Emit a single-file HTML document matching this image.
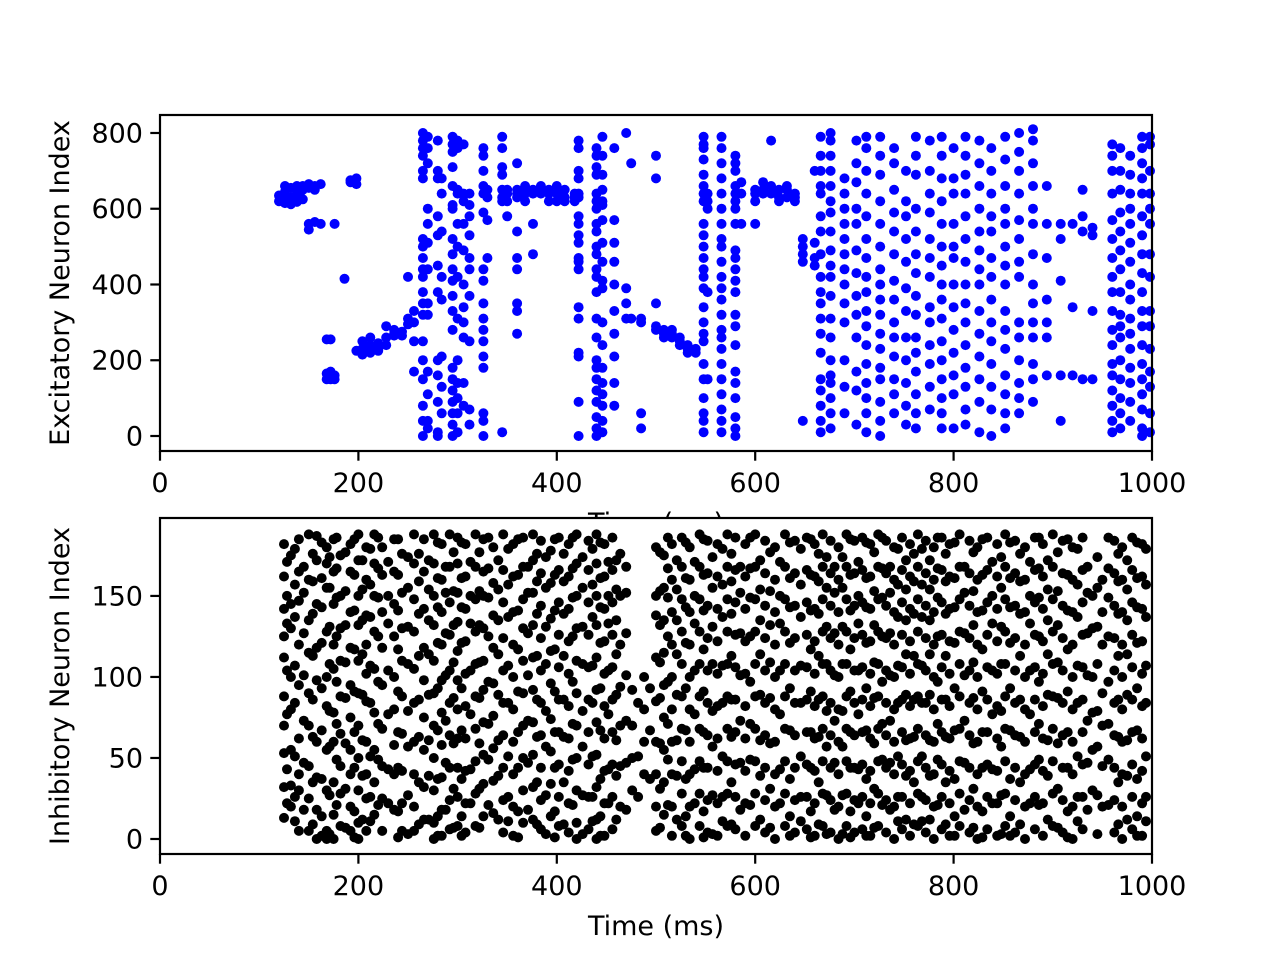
<!DOCTYPE html>
<html><head><meta charset="utf-8"><style>
html,body{margin:0;padding:0;background:#fff;}
svg{display:block;font-family:"DejaVu Sans","Liberation Sans",sans-serif;}
</style></head><body>
<svg id="fig" width="1280" height="960" viewBox="0 0 1280 960"></svg>
<script>
// ---- Excitatory spikes: [time ms, [neuron indices]] ----
const excTimes = [120,126,132,138,144,150,156,162,168,172,176,186,192,198,204,212,220,228,236,244,250,256,265,270,280,284,295,300,306,312,326,330,345,350,360,368,376,384,392,400,408,418,422,440,446,458,470,475,485,500,508,516,524,532,540,548,552,566,580,586,600,608,616,624,632,640,648,660,666,676,690,702,712,726,740,752,762,776,788,800,812,826,838,852,866,880,894,908,920,930,940,960,968,978,990,998];
const excNeurons = [
[635,620],[645,625,615,660],[655,630,612],[660,640,618],[660,650,625],[665,655,560,545],[660,650,565],[665,560],[255,165,150],[255,170,150],[160,150,560],[415],[675,670],[680,665,225],[230,215,250],[240,220,260],[245,225,230],[290,260,240],[280,270,265],[275,265],[295,310,420],[330,300,170,250],
[800,780,760,740,700,680,520,500,470,440,420,380,350,320,250,200,150,80,40,0],[790,760,720,600,560,510,440,350,320,170,110,40,20],[780,700,680,580,530,450,380,200,160,90,10,0],[680,640,540,420,360,210,130,60],
[790,770,750,710,660,610,600,520,480,440,410,370,330,280,180,150,120,90,60,30,0],[780,760,640,650,560,500,420,310,200,140,100,60,10],[770,640,620,560,490,400,340,300,260,140,80],[640,610,580,530,470,440,370,250,70,30],
[760,740,700,660,640,590,440,410,350,310,280,250,210,180,60,40,0],[650,630,570,470],[790,760,710,690,650,620,630,10],[650,640,620,580],[720,650,640,630,540,470,440,350,330,270],[660,650,640,620],[650,640,560,480],[660,650,640],[650,640,620],[660,640,620],[650,630,620],[640,630,620],
[780,760,700,680,640,630,580,560,530,510,470,460,440,340,310,220,210,90,0],[760,740,710,690,640,620,600,560,540,500,480,440,420,380,310,260,200,180,150,120,90,50,20,0],[790,740,690,650,620,610,570,510,460,410,390,300,240,180,140,110,80,40,10],[760,570,510,460,400,330,270,210,140,80],[800,390,350,310],[720,310],[310,300,60,20],[740,680,350,290,280],[280,270,260],[280,270,260],[260,250,240],[240,230,220],[230,220],
[790,770,760,730,690,660,640,620,560,530,500,470,440,420,390,340,300,270,250,190,150,100,60,40,10],[640,620,600,380,150],[790,760,720,680,640,600,560,520,500,460,420,390,360,320,280,260,230,190,150,110,70,40,10],[740,720,700,660,640,620,600,560,490,470,440,410,380,320,290,240,170,140,100,50,20,0],[670,640,560],[650,640,620,560],[670,650,640],[660,640,780],[650,630,620],[660,650,630],[640,630,620],[520,500,480,460,40],[510,470,450,700],[790,740,700,660,640,580,540,480,420,380,350,310,270,220,150,120,80,40,10],
[800,780,740,700,660,620,590,540,490,450,420,370,310,260,200,160,140,100,60,20],[680,640,600,560,520,480,440,400,350,300,200,130,60],[780,720,670,600,560,490,430,370,320,260,170,120,30],[790,760,700,640,580,520,470,420,380,330,290,240,190,140,100,60,10],[790,740,690,620,560,500,440,400,360,320,270,230,180,150,90,40,0],[760,720,650,590,540,480,410,360,300,260,210,150,110,60],[700,620,580,520,460,390,330,260,200,140,80,30],[790,740,690,600,540,480,430,370,320,260,220,170,110,60,20],[780,700,640,590,520,470,420,340,300,240,190,130,70],[790,740,680,620,560,500,450,400,360,310,250,200,150,100,60,20],[760,680,640,560,500,470,400,340,280,220,160,110,20],[790,740,690,640,580,520,460,400,350,300,240,180,130,70,30],[780,720,660,600,540,490,440,400,330,270,210,150,90,10],[760,700,640,580,540,470,420,360,300,250,190,130,70,0],[790,730,660,600,560,500,450,400,330,280,230,160,110,60,20],[800,750,700,640,570,520,460,420,300,260,200,140,100,60],[810,780,720,660,600,560,480,400,350,300,260,190,150,90],[660,560,470,360,300,260,160],[560,520,410,160,40],[560,340,160],[650,580,540,150],[550,530,330,150],
[770,740,700,640,570,520,470,420,380,330,280,240,190,160,120,80,40,10],[760,700,650,590,540,490,440,380,320,290,260,200,150,100,60,20],[740,690,640,600,560,510,460,400,360,310,270,230,180,140,90,40],[790,760,720,680,640,580,530,480,430,380,330,290,240,190,150,110,70,20,0],
[790,770,700,640,600,560,480,420,330,290,230,170,130,60,10]
];
// ---- Inhibitory spikes (set A) ----
const inhTimes = [125,132,140,150,158,168,175,182,192,200,208,216,224,236,244,256,266,276,284,292,300,308,318,326,336,346,356,366,376,384,394,402,412,420,432,440,448,456,464,476,488,500,508,516,526,534,544,552,562,572,580,590,600,610,620,630,640,652,660,668,676,684,692,700,708,716,724,732,740,748,756,764,772,780,788,796,806,816,824,834,844,852,862,872,882,890,900,910,920,930,940,950,962,970,980,990,998];
const inhNeurons = [
[182,162,142,125,112,88,70,53,32,13],[175,145,130,100,80,55,33,20],[185,165,147,120,95,62,40,30,5],[188,160,135,115,90,70,45,25,5],[187,172,145,118,98,60,38,18,0],[180,170,155,128,100,82,55,30,5,0],[185,165,145,120,105,78,60,35,15,0],[175,150,130,110,88,65,45,28,8],[182,165,140,118,95,75,55,40,20,5],[188,172,150,132,110,90,70,50,30,10,0],[180,160,138,120,102,85,60,40,25,5],[188,170,150,128,105,78,55,35,15],[180,163,140,118,95,68,45,25,5],[185,165,145,125,100,80,58,40,18],[176,152,130,110,88,65,42,22,5],[188,170,148,128,105,84,60,40,20,5],[185,165,142,118,98,75,55,32,12],[188,170,150,132,110,90,70,50,30,10,0],[182,160,140,120,98,78,58,38,18,2],[188,168,146,126,104,84,64,44,24,6],[186,170,152,134,116,98,80,62,44,26,8],[182,162,142,122,102,82,62,42,22,4],[188,168,148,128,108,88,68,48,28,8],[185,165,150,130,110,92,72,52,34,14],[180,158,138,118,96,76,56,36,16],[188,166,146,124,104,84,64,44,24,4],[182,162,140,120,100,80,60,40,20,2],[186,168,148,130,110,90,70,50,30,10],[188,172,152,132,112,92,72,52,32,12],[184,164,144,124,104,84,64,44,24,6],[178,158,136,116,96,74,54,34,14],[186,166,146,126,106,86,66,46,26,8],[182,162,142,122,102,82,62,42,22,4],[188,170,150,130,110,90,70,50,30,10,0],[184,166,146,126,106,86,66,46,26,6],[188,170,150,132,112,92,72,52,32,12,0],[182,162,142,122,102,82,62,42,22,2],[186,166,146,126,106,86,66,46,26,6],[176,150,120,94,70,45,20],[92,70,50,30],[100,80,60,40],[180,150,138,112,85,60,40,20,5],[175,155,135,115,95,75,55,35,15],[182,160,140,120,100,80,60,40,20,2],[186,168,148,128,108,88,68,48,28,8],[180,160,140,120,100,80,60,40,20,0],[188,168,148,128,108,88,68,48,28,8],[184,164,144,124,104,84,64,44,24,4],[182,162,142,122,102,82,62,42,22,2],[188,168,148,128,108,88,68,48,28,8],[186,166,146,126,106,86,66,46,26,6],[182,162,142,122,102,82,62,42,22,2],[188,168,148,128,108,88,68,48,28,8],[184,164,144,124,104,84,64,44,24,4],[180,160,140,120,100,80,60,40,20,0],[188,168,148,128,108,88,68,48,28,8],[184,164,144,124,104,84,64,44,24,4],[186,166,146,126,106,86,66,46,26,6],[182,162,142,122,102,82,62,42,22,2],[188,168,148,128,108,88,68,48,28,8],[184,164,144,124,104,84,64,44,24,4],[180,160,140,120,100,80,60,40,20,0],[188,168,148,128,108,88,68,48,28,8],[184,164,144,124,104,84,64,44,24,4],[186,166,146,126,106,86,66,46,26,6],[182,162,142,122,102,82,62,42,22,2],[188,168,148,128,108,88,68,48,28,8],[184,164,144,124,104,84,64,44,24,4],[180,160,140,120,100,80,60,40,20,0],[186,166,146,126,106,86,66,46,26,6],[182,162,142,122,102,82,62,42,22,2],[188,168,148,128,108,88,68,48,28,8],[184,164,144,124,104,84,64,44,24,4],[180,160,140,120,100,80,60,40,20,0],[186,166,146,126,106,86,66,46,26,6],[182,162,142,122,102,82,62,42,22,2],[188,168,148,128,108,88,68,48,28,8],[184,164,144,124,104,84,64,44,24,4],[180,160,140,120,100,80,60,40,20,0],[186,166,146,126,106,86,66,46,26,6],[182,162,142,122,102,82,62,42,22,2],[188,168,148,128,108,88,68,48,28,8],[184,164,144,124,104,84,64,44,24,4],[180,160,140,120,100,80,60,40,20,0],[186,166,146,126,106,86,66,46,26,6],[182,162,142,122,102,82,62,42,22,2],[188,168,148,128,108,88,68,48,28,8],[184,164,144,124,104,84,64,44,24,4],[180,160,140,120,100,80,60,40,20,0],[186,166,146,126,106,86,66,46,26,6],[150,130,100,78,55,30],[160,140,120,90,70,45,20],[184,164,144,124,104,84,64,44,24,4],[180,160,140,120,100,80,60,40,20,0],[186,166,146,126,106,86,66,46,26,6],[182,162,142,122,102,82,62,42,22,2]
];
// ---- Inhibitory spikes (set B) ----
const inhTimesB = [128,136,145,154,163,171,178,187,196,204,212,220,230,240,250,261,271,280,288,296,304,313,322,331,341,351,361,371,380,389,398,407,416,426,436,444,452,460,470,482,494,504,512,521,530,539,548,557,567,576,585,595,605,615,625,635,646,656,664,672,680,688,696,704,712,720,728,736,744,752,760,768,776,784,792,801,811,820,829,839,848,857,867,877,886,895,905,915,925,935,945,956,966,975,985,994];
const inhNeuronsB = [
[171,150,133,104,77,43,22],[179,157,137,107,84,51,26,11],[168,152,127,101,73,47,18],[176,159,139,113,86,63,35,9],[183,161,143,121,93,67,37,14,2],[174,155,131,108,79,57,27,3],[186,167,149,125,97,71,49,21],[177,153,132,109,87,59,31,7],[185,163,141,117,91,66,44,17,1],[172,154,135,114,89,61,39,12],
[179,157,137,107,84,51,26,11],[186,167,149,125,97,71,49,21],[171,150,133,104,77,43,22],[185,163,141,117,91,66,44,17,1],[174,155,131,108,79,57,27,3],[176,159,139,113,86,63,35,9],[172,154,135,114,89,61,39,12],[183,161,143,121,93,67,37,14,2],[168,152,127,101,73,47,18],[177,153,132,109,87,59,31,7],
[183,161,143,121,93,67,37,14,2],[171,150,133,104,77,43,22],[177,153,132,109,87,59,31,7],[186,167,149,125,97,71,49,21],[172,154,135,114,89,61,39,12],[179,157,137,107,84,51,26,11],[185,163,141,117,91,66,44,17,1],[168,152,127,101,73,47,18],[176,159,139,113,86,63,35,9],[174,155,131,108,79,57,27,3],
[185,163,141,117,91,66,44,17,1],[176,159,139,113,86,63,35,9],[186,167,149,125,97,71,49,21],[174,155,131,108,79,57,27,3],[179,157,137,107,84,51,26,11],[183,161,143,121,93,67,37,14,2],[171,150,133,104,77,43,22],[172,154,135,114,89,61,39,12],[168,152,127,101,73,47,18],
[84,51,26],[93,67,37],
[177,153,132,109,87,59,31,7],[186,167,149,125,97,71,49,21],[172,154,135,114,89,61,39,12],[183,161,143,121,93,67,37,14,2],[171,150,133,104,77,43,22],[185,163,141,117,91,66,44,17,1],[174,155,131,108,79,57,27,3],[179,157,137,107,84,51,26,11],[176,159,139,113,86,63,35,9],[168,152,127,101,73,47,18],
[186,167,149,125,97,71,49,21],[172,154,135,114,89,61,39,12],[177,153,132,109,87,59,31,7],[171,150,133,104,77,43,22],[183,161,143,121,93,67,37,14,2],[179,157,137,107,84,51,26,11],[185,163,141,117,91,66,44,17,1],[176,159,139,113,86,63,35,9],[174,155,131,108,79,57,27,3],[168,152,127,101,73,47,18],
[174,155,131,108,79,57,27,3],[185,163,141,117,91,66,44,17,1],[171,150,133,104,77,43,22],[183,161,143,121,93,67,37,14,2],[177,153,132,109,87,59,31,7],[186,167,149,125,97,71,49,21],[168,152,127,101,73,47,18],[179,157,137,107,84,51,26,11],[172,154,135,114,89,61,39,12],[176,159,139,113,86,63,35,9],
[179,157,137,107,84,51,26,11],[172,154,135,114,89,61,39,12],[186,167,149,125,97,71,49,21],[176,159,139,113,86,63,35,9],[183,161,143,121,93,67,37,14,2],[168,152,127,101,73,47,18],[177,153,132,109,87,59,31,7],[185,163,141,117,91,66,44,17,1],[171,150,133,104,77,43,22],[174,155,131,108,79,57,27,3],
[183,161,143,121,93,67,37,14,2],[176,159,139,113,86,63,35,9],[171,150,133,104,77,43,22],[186,167,149,125,97,71,49,21],[172,154,135,114,89,61,39,12],[177,153,132,109,87,59,31,7],[185,163,141,117,91,66,44,17,1],[179,157,137,107,84,51,26,11],[168,152,127,101,73,47,18],[174,155,131,108,79,57,27,3],
[186,167,149,125,97,71,49,21],[176,159,139,113,86,63,35,9],[172,154,135,114,89,61,39,12],[183,161,143,121,93,67,37,14,2],[179,157,137,107,84,51,26,11],[171,150,133,104,77,43,22]
];
const xTicks = [0,200,400,600,800,1000];
const excYTicks = [0,200,400,600,800];
const inhYTicks = [0,50,100,150];

const NS = "http://www.w3.org/2000/svg";
const svg = document.getElementById('fig');
function mk(tag, attrs, parent){const e=document.createElementNS(NS,tag);for(const k in attrs)e.setAttribute(k,attrs[k]);(parent||svg).appendChild(e);return e;}

function panel(cfg){
  const {top,bottom,ymin,ymax,sets,color,yTicks,ylabel,name}=cfg;
  const L=160,R=1152;
  const x=t=>L+(t-0)/1000*(R-L);
  const y=v=>bottom-(v-ymin)/(ymax-ymin)*(bottom-top);
  const g=mk('g',{});
  
  
  const bg=mk('rect',{x:L,y:top,width:R-L,height:bottom-top,fill:'#fff'},g);
  
  
  const dots=mk('g',{fill:color},g);
  
  
  sets.forEach(s=>{
    s[0].forEach((t,i)=>{
      const list=s[1][i];
      if(!list) return;
      list.forEach(n=>{
        const c=mk('circle',{cx:x(t).toFixed(1),cy:y(n).toFixed(1),r:5},dots);
        
        
      });
    });
  });
  const frame=mk('rect',{x:L,y:top,width:R-L,height:bottom-top,fill:'none',stroke:'#000','stroke-width':2.2},g);
  
  
  xTicks.forEach(t=>{
    mk('line',{x1:x(t),x2:x(t),y1:bottom,y2:bottom+9.7,stroke:'#000','stroke-width':2.2},g);
    const tx=mk('text',{x:x(t),y:bottom+41,'font-size':27,'text-anchor':'middle'},g);
    tx.textContent=t;
    
    
  });
  yTicks.forEach(v=>{
    mk('line',{x1:L-9.7,x2:L,y1:y(v),y2:y(v),stroke:'#000','stroke-width':2.2},g);
    const tx=mk('text',{x:L-17,y:y(v)+9.5,'font-size':27,'text-anchor':'end'},g);
    tx.textContent=v;
    
    
  });
  const xl=mk('text',{x:(L+R)/2,y:bottom+81,'font-size':27,'text-anchor':'middle'},g);
  xl.textContent='Time (ms)';
  
  
  const yl=mk('text',{x:0,y:0,'font-size':27,'text-anchor':'middle',transform:'translate(69,'+((top+bottom)/2)+') rotate(-90)'},g);
  yl.textContent=ylabel;
  
  
}
panel({top:115,bottom:451,ymin:-39.6,ymax:847.5,sets:[[excTimes,excNeurons]],color:'#0000ff',yTicks:excYTicks,ylabel:'Excitatory Neuron Index',name:'excitatory'});
panel({top:518,bottom:854,ymin:-9.26,ymax:198.1,sets:[[inhTimes,inhNeurons],[inhTimesB,inhNeuronsB]],color:'#000000',yTicks:inhYTicks,ylabel:'Inhibitory Neuron Index',name:'inhibitory'});
</script>
</body></html>
